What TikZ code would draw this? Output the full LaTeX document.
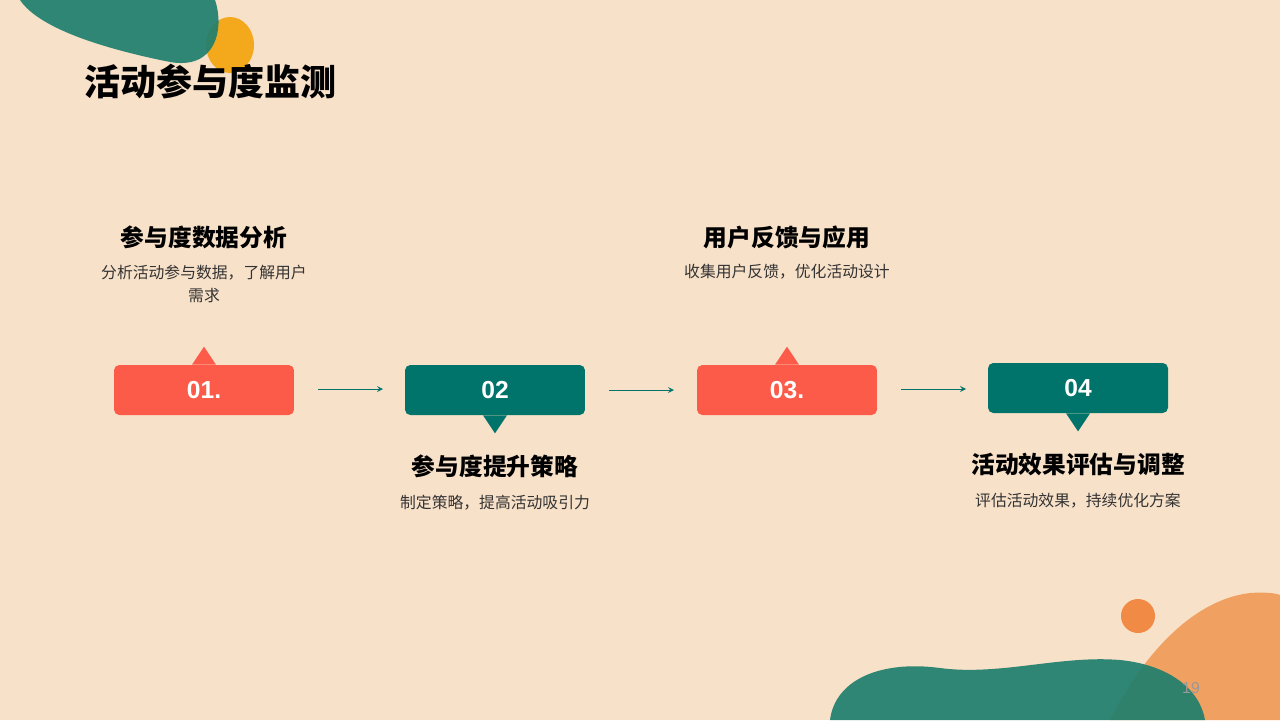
\documentclass[tikz,border=0pt]{standalone}
\usepackage{fontspec}
\setmainfont{Noto Sans CJK SC}
\setsansfont{Liberation Sans}
\usepackage{tikz}
\usetikzlibrary{positioning,calc}
\definecolor{bgpeach}{HTML}{F8E1C9}
\definecolor{redbox}{HTML}{FD5B49}
\definecolor{tealbox}{HTML}{00736A}
\definecolor{blobteal}{HTML}{1F7F6E}
\definecolor{bloborange}{HTML}{F0A060}
\definecolor{dotorange}{HTML}{F08A45}
\definecolor{yellowdot}{HTML}{F4A81C}
\definecolor{bodygray}{HTML}{333333}

\begin{document}
\begin{tikzpicture}[x=0.02cm,y=-0.02cm,>=stealth]

    \tikzstyle{stepbox}=[rectangle, rounded corners=3pt, minimum width=3.6cm, minimum height=1cm, font=\sffamily\bfseries\fontsize{14}{16}\selectfont, text=white]
    \tikzstyle{heading}=[font=\bfseries\fontsize{13.5}{16}\selectfont, text=black]
    \tikzstyle{body}=[font=\fontsize{9}{13.5}\selectfont, text=bodygray, align=center]
    \tikzstyle{flow}=[->, tealbox, line width=0.5pt]

    % background and margins
    \fill[bgpeach] (0,0) rectangle (1280,720);
    \useasboundingbox (0,0) rectangle (1280,720);

    % decorative blobs
    \fill[yellowdot] (230,45) ellipse (24 and 28);
    \fill[blobteal, opacity=0.92] (20,0) .. controls (40,30) and (110,50) .. (170,62)
        .. controls (215,70) and (225,30) .. (215,0) -- cycle;
    \fill[bloborange] (1110,720) .. controls (1140,660) and (1190,600) .. (1250,593)
        .. controls (1265,592) and (1275,593) .. (1280,595) -- (1280,720) -- cycle;
    \fill[dotorange] (1138,616) circle (17);
    \fill[blobteal, opacity=0.92] (830,720) .. controls (835,680) and (880,660) .. (940,668)
        .. controls (1000,676) and (1060,655) .. (1120,660)
        .. controls (1170,665) and (1200,690) .. (1205,720) -- cycle;

    % title
    \node[anchor=west, font=\bfseries\fontsize{20.5}{24}\selectfont] (title) at (78,82) {活动参与度监测};

    % steps
    \node[stepbox, fill=redbox] (S1) at (204,390) {01.};
    \node[stepbox, fill=tealbox] (S2) at (495,390) {02};
    \node[stepbox, fill=redbox] (S3) at (787,390) {03.};
    \node[stepbox, fill=tealbox] (S4) at (1078,388) {04};
    \fill[redbox] ($(S1.north)+(-12,0)$) -- ++(12,-18) -- ++(12,18) -- cycle;
    \fill[tealbox] ($(S2.south)+(-12,0)$) -- ++(12,18) -- ++(12,-18) -- cycle;
    \fill[redbox] ($(S3.north)+(-12,0)$) -- ++(12,-18) -- ++(12,18) -- cycle;
    \fill[tealbox] ($(S4.south)+(-12,0)$) -- ++(12,18) -- ++(12,-18) -- cycle;

    % connectors
    \coordinate (A1) at (318,389); \coordinate (B1) at (383,389);
    \coordinate (A2) at (609,390); \coordinate (B2) at (674,390);
    \coordinate (A3) at (901,389); \coordinate (B3) at (966,389);
    \draw[flow] (A1) -- (B1);
    \draw[flow] (A2) -- (B2);
    \draw[flow] (A3) -- (B3);

    % labels
    \node[heading] (H1) at (204,237) {参与度数据分析};
    \node[body] (T1) at (204,284) {分析活动参与数据，了解用户\\需求};
    \node[heading] (H2) at (495,466) {参与度提升策略};
    \node[body] (T2) at (495,503) {制定策略，提高活动吸引力};
    \node[heading] (H3) at (787,237) {用户反馈与应用};
    \node[body] (T3) at (787,272) {收集用户反馈，优化活动设计};
    \node[heading] (H4) at (1078,464) {活动效果评估与调整};
    \node[body] (T4) at (1078,501) {评估活动效果，持续优化方案};

    % page number
    \node[font=\sffamily\fontsize{9}{10}\selectfont, text=gray!80] (pg) at (1191,688) {19};
\end{tikzpicture}
\end{document}
